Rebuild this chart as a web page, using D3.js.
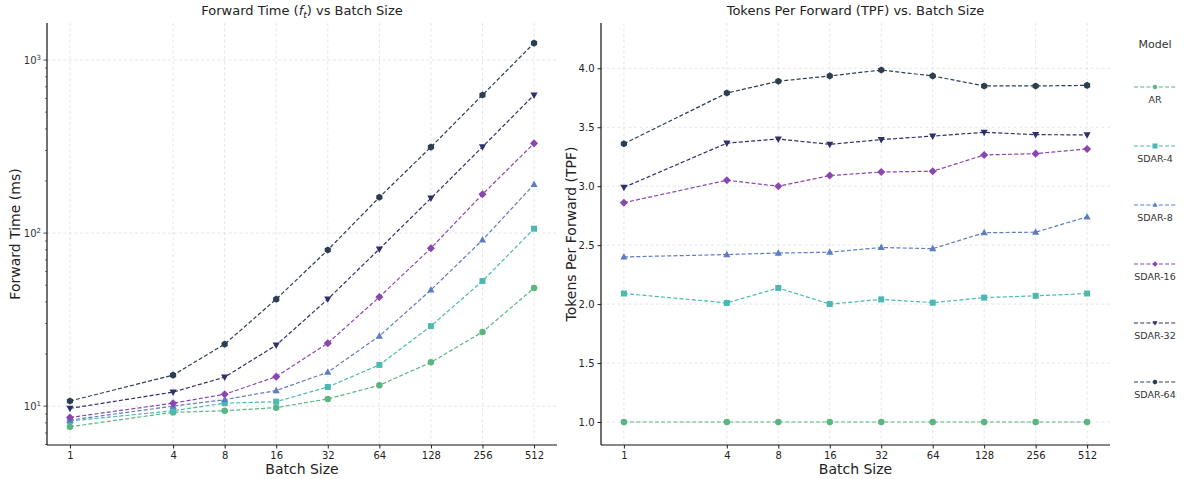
<!DOCTYPE html>
<html>
<head>
<meta charset="utf-8">
<script src="https://cdn.jsdelivr.net/npm/d3@7"></script>
<style>
  html, body { margin: 0; padding: 0; background: #fff; overflow: hidden; }
  svg { display: block; }
  text { font-family: "DejaVu Sans", sans-serif; fill: #222; }
</style>
</head>
<body>
<svg id="chart" width="1184" height="479"></svg>
<script>
// ---- data ----
const batchSizes = [1, 4, 8, 16, 32, 64, 128, 256, 512];
const models = ["AR", "SDAR-4", "SDAR-8", "SDAR-16", "SDAR-32", "SDAR-64"];
const colors = ["#5bb57f", "#4bb8b1", "#5d7cc2", "#8a45ae", "#2f2f6a", "#2c3e50"];
const markers = ["circle", "square", "triangleUp", "diamond", "triangleDown", "hexagon"];

// forward time (ms)
const timeAR     = [7.6, 9.2, 9.4, 9.8, 11.0, 13.2, 17.9, 26.8, 48.1];
const timeSDAR4  = [8.2, 9.4, 10.4, 10.6, 12.9, 17.3, 29.0, 52.8, 106];
const timeSDAR8  = [8.3, 10.0, 10.9, 12.3, 15.7, 25.4, 46.9, 91.2, 191];
const timeSDAR16 = [8.6, 10.4, 11.7, 14.8, 23.1, 42.7, 81.8, 167.5, 330];
const timeSDAR32 = [9.7, 12.05, 14.7, 22.5, 41.5, 80.9, 159, 315, 628];
const timeSDAR64 = [10.7, 15.1, 22.8, 41.5, 79.8, 161, 314, 628, 1253];

// tokens per forward
const tpfAR     = [1.0, 1.0, 1.0, 1.0, 1.0, 1.0, 1.0, 1.0, 1.0];
const tpfSDAR4  = [2.09, 2.01, 2.137, 2.0, 2.04, 2.012, 2.055, 2.07, 2.09];
const tpfSDAR8  = [2.40, 2.42, 2.433, 2.44, 2.48, 2.47, 2.605, 2.61, 2.74];
const tpfSDAR16 = [2.86, 3.05, 3.0, 3.09, 3.12, 3.127, 3.265, 3.276, 3.316];
const tpfSDAR32 = [2.99, 3.365, 3.40, 3.355, 3.395, 3.425, 3.457, 3.437, 3.435];
const tpfSDAR64 = [3.36, 3.79, 3.89, 3.935, 3.985, 3.935, 3.85, 3.85, 3.855];

const timeSeries = [timeAR, timeSDAR4, timeSDAR8, timeSDAR16, timeSDAR32, timeSDAR64];
const tpfSeries = [tpfAR, tpfSDAR4, tpfSDAR8, tpfSDAR16, tpfSDAR32, tpfSDAR64];
const tpfTicks = [1.0, 1.5, 2.0, 2.5, 3.0, 3.5, 4.0];

const svg = d3.select("#chart");
const gridColor = "#e0e0e0";

function markerPath(type, size) {
    const s = size;
    switch (type) {
        case "circle": return d3.symbol(d3.symbolCircle, s * s * 0.785)();
        case "square": return `M${-s/2},${-s/2}h${s}v${s}h${-s}Z`;
        case "triangleUp": return `M0,${-s*0.6}L${s*0.55},${s*0.4}L${-s*0.55},${s*0.4}Z`;
        case "triangleDown": return `M0,${s*0.6}L${s*0.55},${-s*0.4}L${-s*0.55},${-s*0.4}Z`;
        case "diamond": return `M0,${-s*0.62}L${s*0.62},0L0,${s*0.62}L${-s*0.62},0Z`;
        case "hexagon": {
            const r = s * 0.55;
            const pts = d3.range(6).map(i => {
                const a = Math.PI / 3 * i - Math.PI / 2;
                return [r * Math.cos(a), r * Math.sin(a)];
            });
            return "M" + pts.join("L") + "Z";
        }
    }
}

function drawPanel(opt) {
    const g = svg.append("g");
    const x = d3.scaleLog().base(2)
        .domain([Math.pow(2, -0.445), Math.pow(2, 9.445)])
        .range([opt.left, opt.right]);
    const y = opt.y;

    // grid
    g.append("g").selectAll("line")
        .data(batchSizes).enter().append("line")
        .attr("x1", d => x(d)).attr("x2", d => x(d))
        .attr("y1", opt.top).attr("y2", opt.bottom)
        .attr("stroke", gridColor).attr("stroke-width", 0.8)
        .attr("stroke-dasharray", "3,2.5");
    g.append("g").selectAll("line")
        .data(opt.yTicks).enter().append("line")
        .attr("x1", opt.left).attr("x2", opt.right)
        .attr("y1", d => y(d)).attr("y2", d => y(d))
        .attr("stroke", gridColor).attr("stroke-width", 0.8)
        .attr("stroke-dasharray", "3,2.5");

    // x axis
    const xAxis = g.append("g")
        .attr("transform", `translate(0,${opt.bottom})`)
        .call(d3.axisBottom(x).tickValues(batchSizes).tickFormat(d3.format("d")).tickSize(3.5).tickPadding(3));
    xAxis.select(".domain").remove();
    xAxis.selectAll("text").attr("font-size", 10).attr("fill", "#333")
        .attr("font-family", "DejaVu Sans");
    xAxis.selectAll("line").attr("stroke", "#222");

    // y axis
    const yAxis = g.append("g").attr("transform", `translate(${opt.left},0)`);
    if (opt.log) {
        const minor = [];
        [1, 10, 100, 1000].forEach(p => d3.range(1, 10).forEach(m => {
            const v = p * m;
            if (v > y.domain()[0] && v < y.domain()[1] && m !== 1) minor.push(v);
        }));
        yAxis.selectAll("line.minor").data(minor).enter().append("line")
            .attr("x1", -2).attr("x2", 0)
            .attr("y1", d => y(d)).attr("y2", d => y(d))
            .attr("stroke", "#222").attr("stroke-width", 0.6);
        yAxis.selectAll("line.major").data(opt.yTicks).enter().append("line")
            .attr("x1", -3.5).attr("x2", 0)
            .attr("y1", d => y(d)).attr("y2", d => y(d))
            .attr("stroke", "#222").attr("stroke-width", 0.8);
        const lbl = yAxis.selectAll("text.lbl").data(opt.yTicks).enter().append("text")
            .attr("x", -6).attr("y", d => y(d) + 3.5)
            .attr("text-anchor", "end").attr("font-size", 10).style("fill", "#333");
        lbl.append("tspan").text("10");
        lbl.append("tspan").attr("dy", -4).attr("font-size", 7).text(d => Math.round(Math.log10(d)));
    } else {
        yAxis.call(d3.axisLeft(y).tickValues(opt.yTicks).tickFormat(d3.format(".1f")).tickSize(3.5).tickPadding(3));
        yAxis.select(".domain").remove();
        yAxis.selectAll("text").attr("font-size", 10).attr("fill", "#333")
            .attr("font-family", "DejaVu Sans");
        yAxis.selectAll("line").attr("stroke", "#222");
    }

    // spines
    g.append("line").attr("x1", opt.left).attr("x2", opt.left)
        .attr("y1", opt.top).attr("y2", opt.bottom)
        .attr("stroke", "#111").attr("stroke-width", 1.2);
    g.append("line").attr("x1", opt.left).attr("x2", opt.right)
        .attr("y1", opt.bottom).attr("y2", opt.bottom)
        .attr("stroke", "#111").attr("stroke-width", 1.2);

    // series
    const line = d3.line().x((d, i) => x(batchSizes[i])).y(d => y(d));
    opt.series.forEach((vals, si) => {
        const sg = g.append("g");
        sg.append("path").attr("d", line(vals))
            .attr("fill", "none").attr("stroke", colors[si])
            .attr("stroke-width", 1.2).attr("stroke-dasharray", "4,2.2");
        sg.selectAll("path.m").data(vals).enter().append("path")
            .attr("class", "m")
            .attr("d", markerPath(markers[si], markers[si] === "square" ? 6 : 6.5))
            .attr("transform", (d, i) => `translate(${x(batchSizes[i])},${y(d)})`)
            .attr("fill", colors[si]);
    });

    // title
    const t = g.append("text").attr("x", (opt.left + opt.right) / 2).attr("y", 15)
        .attr("text-anchor", "middle").attr("font-size", 13);
    opt.title(t);

    // axis labels
    g.append("text").attr("x", (opt.left + opt.right) / 2).attr("y", 474)
        .attr("text-anchor", "middle").attr("font-size", 14).text("Batch Size");
    g.append("text")
        .attr("transform", `translate(${opt.yLabelX},${(opt.top + opt.bottom) / 2}) rotate(-90)`)
        .attr("text-anchor", "middle").attr("font-size", 14).text(opt.yLabel);
}

drawPanel({
    left: 47, right: 557, top: 23, bottom: 445,
    y: d3.scaleLog().domain([5.96, 1637]).range([445, 23]),
    log: true,
    yTicks: [10, 100, 1000],
    series: timeSeries,
    yLabel: "Forward Time (ms)",
    yLabelX: 20,
    title: t => {
        t.append("tspan").text("Forward Time (");
        t.append("tspan").attr("font-style", "italic").text("f");
        t.append("tspan").attr("font-style", "italic").attr("font-size", 9).attr("dy", 3).text("t");
        t.append("tspan").attr("dy", -3).text(") vs Batch Size");
    }
});

drawPanel({
    left: 601, right: 1110, top: 23, bottom: 445,
    y: d3.scaleLinear().domain([0.805, 4.384]).range([445, 23]),
    log: false,
    yTicks: tpfTicks,
    series: tpfSeries,
    yLabel: "Tokens Per Forward (TPF)",
    yLabelX: 576,
    title: t => t.text("Tokens Per Forward (TPF) vs. Batch Size")
});

// legend
const legend = svg.append("g").attr("transform", "translate(1155,0)");
legend.append("text").attr("x", 0).attr("y", 48).attr("text-anchor", "middle")
    .attr("font-size", 11).style("fill", "#333").text("Model");
const item = legend.selectAll("g.item").data(models).enter().append("g")
    .attr("transform", (d, i) => `translate(0,${87 + i * 59})`);
item.append("line").attr("x1", -21).attr("x2", 21)
    .attr("stroke", (d, i) => colors[i]).attr("stroke-width", 1.2)
    .attr("stroke-dasharray", "4,2.2");
item.append("path").attr("d", (d, i) => markerPath(markers[i], i === 1 ? 5 : 4.5))
    .attr("fill", (d, i) => colors[i]);
item.append("text").attr("y", 16).attr("text-anchor", "middle")
    .attr("font-size", 9.5).style("fill", "#333").text(d => d);
</script>
</body>
</html>
